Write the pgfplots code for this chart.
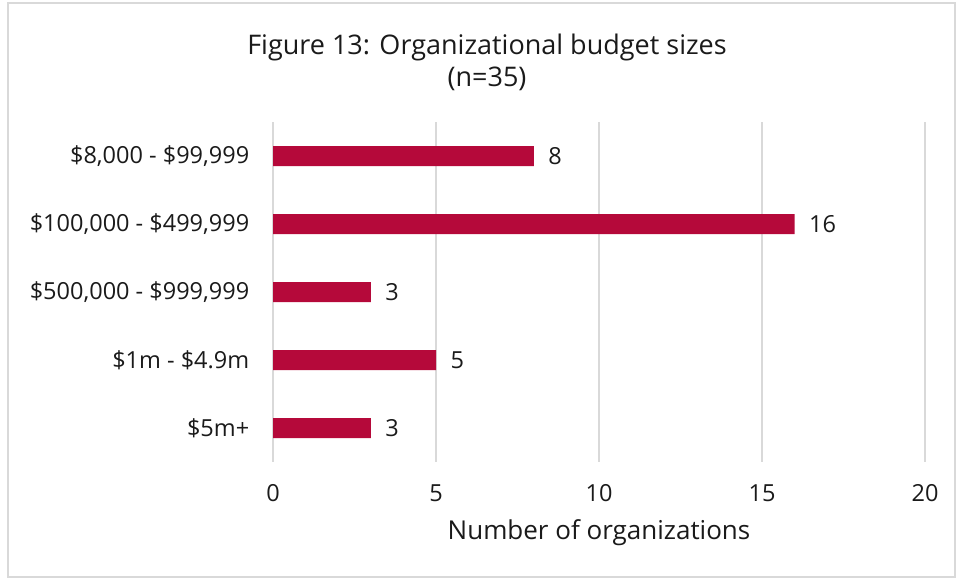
\documentclass[border=0pt]{standalone}
\usepackage{fontspec}
\setmainfont{Open Sans}
\usepackage{pgfplots}
\pgfplotsset{compat=1.18}
\definecolor{barred}{HTML}{B5093A}
\definecolor{gridgray}{HTML}{D9D9D9}
\definecolor{txt}{HTML}{1A1A1A}
\begin{document}
\begin{tikzpicture}[x=1pt,y=1pt]
\path[use as bounding box] (0,0) rectangle (960,579);
\draw[gridgray, line width=1.2pt] (8,2) rectangle (955,576);
\node[txt, align=center, font=\fontsize{27}{32}\selectfont] at (487,517) {Figure 13: Organizational budget sizes\\(n=35)};
\begin{axis}[
    at={(273pt,117pt)}, anchor=south west,
    scale only axis, width=652pt, height=340pt,
    xbar, bar width=20pt,
    xmin=0, xmax=20, ymin=-0.5, ymax=4.5,
    y dir=reverse,
    axis line style={draw=none},
    xtick={0,5,...,20}, ytick={0,1,2,3,4},
    yticklabels={{\$8,000 - \$99,999}, {\$100,000 - \$499,999}, {\$500,000 - \$999,999}, {\$1m - \$4.9m}, {\$5m+}},
    tick style={draw=none},
    xmajorgrids, major grid style={gridgray, line width=1.2pt},
    ticklabel style={txt, font=\fontsize{23.5}{26}\selectfont},
    /pgf/number format/assume math mode=true,
    xticklabel style={yshift=-19pt},
    yticklabel style={xshift=-16pt},
    xlabel={Number of organizations},
    xlabel style={txt, font=\fontsize{26}{28}\selectfont, yshift=-11pt},
    nodes near coords,
    nodes near coords style={txt, font=\fontsize{23.5}{26}\selectfont, anchor=west, xshift=11pt},
]
\addplot[fill=barred, draw=none] coordinates {(8,0) (16,1) (3,2) (5,3) (3,4)};
\end{axis}
\end{tikzpicture}
\end{document}
